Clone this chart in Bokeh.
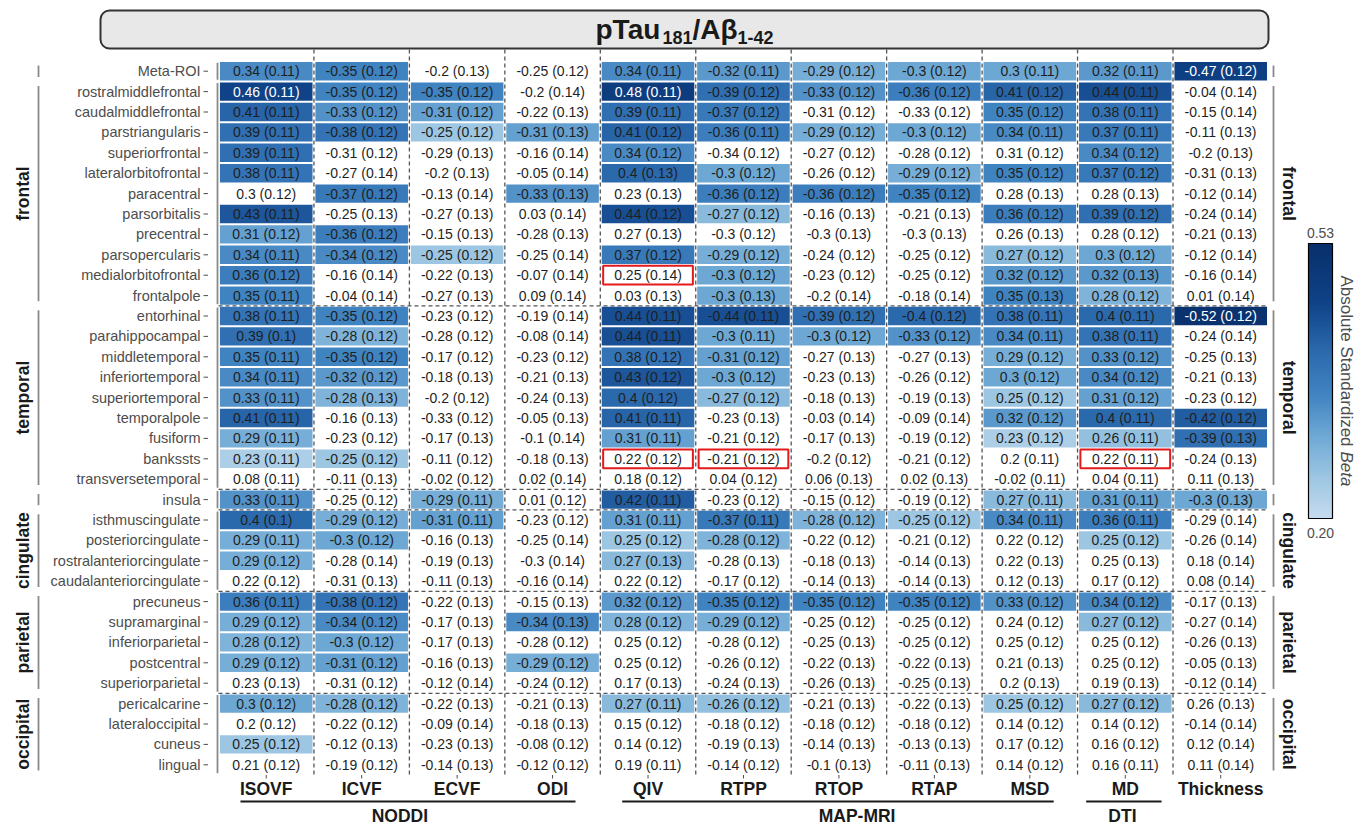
import math
from bokeh.plotting import figure
from bokeh.models import ColumnDataSource, Range1d, LinearColorMapper, ColorBar, FixedTicker
from bokeh.transform import transform
from bokeh.core.properties import value
from bokeh.embed import file_html
from bokeh.resources import INLINE

# ---------------- data ----------------
regions = ["Meta-ROI",
           "rostralmiddlefrontal", "caudalmiddlefrontal", "parstriangularis", "superiorfrontal",
           "lateralorbitofrontal", "paracentral", "parsorbitalis", "precentral", "parsopercularis",
           "medialorbitofrontal", "frontalpole",
           "entorhinal", "parahippocampal", "middletemporal", "inferiortemporal", "superiortemporal",
           "temporalpole", "fusiform", "bankssts", "transversetemporal",
           "insula",
           "isthmuscingulate", "posteriorcingulate", "rostralanteriorcingulate", "caudalanteriorcingulate",
           "precuneus", "supramarginal", "inferiorparietal", "postcentral", "superiorparietal",
           "pericalcarine", "lateraloccipital", "cuneus", "lingual"]

groups = ["Meta-ROI", "frontal", "temporal", "insula", "cingulate", "parietal", "occipital"]
group_sizes = [1, 11, 9, 1, 4, 5, 4]
group_named = [False, True, True, False, True, True, True]

measures = ["ISOVF", "ICVF", "ECVF", "ODI", "QIV", "RTPP", "RTOP", "RTAP", "MSD", "MD", "Thickness"]
families = ["NODDI", "MAP-MRI", "DTI"]
family_first = [0, 4, 9]
family_last = [3, 8, 9]

ISOVF_beta = [0.34, 0.46, 0.41, 0.39, 0.39, 0.38, 0.3, 0.43, 0.31, 0.34, 0.36, 0.35,
              0.38, 0.39, 0.35, 0.34, 0.33, 0.41, 0.29, 0.23, 0.08, 0.33,
              0.4, 0.29, 0.29, 0.22, 0.36, 0.29, 0.28, 0.29, 0.23, 0.3, 0.2, 0.25, 0.21]
ISOVF_se = [0.11, 0.11, 0.11, 0.11, 0.11, 0.11, 0.12, 0.11, 0.12, 0.11, 0.12, 0.11,
            0.11, 0.1, 0.11, 0.11, 0.11, 0.11, 0.11, 0.11, 0.11, 0.11,
            0.1, 0.11, 0.12, 0.12, 0.11, 0.12, 0.12, 0.12, 0.13, 0.12, 0.12, 0.12, 0.12]
ISOVF_sig = [1, 1, 1, 1, 1, 1, 0, 1, 1, 1, 1, 1,
             1, 1, 1, 1, 1, 1, 1, 1, 0, 1,
             1, 1, 1, 0, 1, 1, 1, 1, 0, 1, 0, 1, 0]

ICVF_beta = [-0.35, -0.35, -0.33, -0.38, -0.31, -0.27, -0.37, -0.25, -0.36, -0.34, -0.16, -0.04,
             -0.35, -0.28, -0.35, -0.32, -0.28, -0.16, -0.23, -0.25, -0.11, -0.25,
             -0.29, -0.3, -0.28, -0.31, -0.38, -0.34, -0.3, -0.31, -0.31, -0.28, -0.22, -0.12, -0.19]
ICVF_se = [0.12, 0.12, 0.12, 0.12, 0.12, 0.14, 0.12, 0.13, 0.12, 0.12, 0.14, 0.14,
           0.12, 0.12, 0.12, 0.12, 0.13, 0.13, 0.12, 0.12, 0.13, 0.12,
           0.12, 0.12, 0.14, 0.13, 0.12, 0.12, 0.12, 0.12, 0.12, 0.12, 0.12, 0.13, 0.12]
ICVF_sig = [1, 1, 1, 1, 0, 0, 1, 0, 1, 1, 0, 0,
            1, 1, 1, 1, 1, 0, 0, 1, 0, 0,
            1, 1, 0, 0, 1, 1, 1, 1, 0, 1, 0, 0, 0]

ECVF_beta = [-0.2, -0.35, -0.31, -0.25, -0.29, -0.2, -0.13, -0.27, -0.15, -0.25, -0.22, -0.27,
             -0.23, -0.28, -0.17, -0.18, -0.2, -0.33, -0.17, -0.11, -0.02, -0.29,
             -0.31, -0.16, -0.19, -0.11, -0.22, -0.17, -0.17, -0.16, -0.12, -0.22, -0.09, -0.23, -0.14]
ECVF_se = [0.13, 0.12, 0.12, 0.12, 0.13, 0.13, 0.14, 0.13, 0.13, 0.12, 0.13, 0.13,
           0.12, 0.12, 0.12, 0.13, 0.12, 0.12, 0.13, 0.12, 0.12, 0.11,
           0.11, 0.13, 0.13, 0.13, 0.13, 0.13, 0.13, 0.13, 0.14, 0.13, 0.14, 0.13, 0.13]
ECVF_sig = [0, 1, 1, 1, 0, 0, 0, 0, 0, 1, 0, 0,
            0, 0, 0, 0, 0, 0, 0, 0, 0, 1,
            1, 0, 0, 0, 0, 0, 0, 0, 0, 0, 0, 0, 0]

ODI_beta = [-0.25, -0.2, -0.22, -0.31, -0.16, -0.05, -0.33, 0.03, -0.28, -0.25, -0.07, 0.09,
            -0.19, -0.08, -0.23, -0.21, -0.24, -0.05, -0.1, -0.18, 0.02, 0.01,
            -0.23, -0.25, -0.3, -0.16, -0.15, -0.34, -0.28, -0.29, -0.24, -0.21, -0.18, -0.08, -0.12]
ODI_se = [0.12, 0.14, 0.13, 0.13, 0.14, 0.14, 0.13, 0.14, 0.13, 0.14, 0.14, 0.14,
          0.14, 0.14, 0.12, 0.13, 0.13, 0.13, 0.14, 0.13, 0.14, 0.12,
          0.12, 0.14, 0.14, 0.14, 0.13, 0.13, 0.12, 0.12, 0.12, 0.13, 0.13, 0.12, 0.12]
ODI_sig = [0, 0, 0, 1, 0, 0, 1, 0, 0, 0, 0, 0,
           0, 0, 0, 0, 0, 0, 0, 0, 0, 0,
           0, 0, 0, 0, 0, 1, 0, 1, 0, 0, 0, 0, 0]

QIV_beta = [0.34, 0.48, 0.39, 0.41, 0.34, 0.4, 0.23, 0.44, 0.27, 0.37, 0.25, 0.03,
            0.44, 0.44, 0.38, 0.43, 0.4, 0.41, 0.31, 0.22, 0.18, 0.42,
            0.31, 0.25, 0.27, 0.22, 0.32, 0.28, 0.25, 0.25, 0.17, 0.27, 0.15, 0.14, 0.19]
QIV_se = [0.11, 0.11, 0.11, 0.12, 0.12, 0.13, 0.13, 0.12, 0.13, 0.12, 0.14, 0.13,
          0.11, 0.11, 0.12, 0.12, 0.12, 0.11, 0.11, 0.12, 0.12, 0.11,
          0.11, 0.12, 0.13, 0.12, 0.12, 0.12, 0.12, 0.12, 0.13, 0.11, 0.12, 0.12, 0.11]
QIV_sig = [1, 1, 1, 1, 1, 1, 0, 1, 0, 1, 0, 0,
           1, 1, 1, 1, 1, 1, 1, 0, 0, 1,
           1, 1, 1, 0, 1, 1, 0, 0, 0, 1, 0, 0, 0]

RTPP_beta = [-0.32, -0.39, -0.37, -0.36, -0.34, -0.3, -0.36, -0.27, -0.3, -0.29, -0.3, -0.3,
             -0.44, -0.3, -0.31, -0.3, -0.27, -0.23, -0.21, -0.21, 0.04, -0.23,
             -0.37, -0.28, -0.28, -0.17, -0.35, -0.29, -0.28, -0.26, -0.24, -0.26, -0.18, -0.19, -0.14]
RTPP_se = [0.11, 0.12, 0.12, 0.11, 0.12, 0.12, 0.12, 0.12, 0.12, 0.12, 0.12, 0.13,
           0.11, 0.11, 0.12, 0.12, 0.12, 0.13, 0.12, 0.12, 0.12, 0.12,
           0.11, 0.12, 0.13, 0.12, 0.12, 0.12, 0.12, 0.12, 0.13, 0.12, 0.12, 0.13, 0.12]
RTPP_sig = [1, 1, 1, 1, 0, 1, 1, 1, 0, 1, 1, 1,
            1, 1, 1, 1, 1, 0, 0, 0, 0, 0,
            1, 1, 0, 0, 1, 1, 0, 0, 0, 1, 0, 0, 0]

RTOP_beta = [-0.29, -0.33, -0.31, -0.29, -0.27, -0.26, -0.36, -0.16, -0.3, -0.24, -0.23, -0.2,
             -0.39, -0.3, -0.27, -0.23, -0.18, -0.03, -0.17, -0.2, 0.06, -0.15,
             -0.28, -0.22, -0.18, -0.14, -0.35, -0.25, -0.25, -0.22, -0.26, -0.21, -0.18, -0.14, -0.1]
RTOP_se = [0.12, 0.12, 0.12, 0.12, 0.12, 0.12, 0.12, 0.13, 0.13, 0.12, 0.12, 0.14,
           0.12, 0.12, 0.13, 0.13, 0.13, 0.14, 0.13, 0.12, 0.13, 0.12,
           0.12, 0.12, 0.13, 0.13, 0.12, 0.12, 0.13, 0.13, 0.13, 0.13, 0.12, 0.13, 0.13]
RTOP_sig = [1, 1, 0, 1, 0, 0, 1, 0, 0, 0, 0, 0,
            1, 1, 0, 0, 0, 0, 0, 0, 0, 0,
            1, 0, 0, 0, 1, 0, 0, 0, 0, 0, 0, 0, 0]

RTAP_beta = [-0.3, -0.36, -0.33, -0.3, -0.28, -0.29, -0.35, -0.21, -0.3, -0.25, -0.25, -0.18,
             -0.4, -0.33, -0.27, -0.26, -0.19, -0.09, -0.19, -0.21, 0.02, -0.19,
             -0.25, -0.21, -0.14, -0.14, -0.35, -0.25, -0.25, -0.22, -0.25, -0.22, -0.18, -0.13, -0.11]
RTAP_se = [0.12, 0.12, 0.12, 0.12, 0.12, 0.12, 0.12, 0.13, 0.13, 0.12, 0.12, 0.14,
           0.12, 0.12, 0.13, 0.12, 0.13, 0.14, 0.12, 0.12, 0.13, 0.12,
           0.12, 0.12, 0.13, 0.13, 0.12, 0.12, 0.12, 0.13, 0.13, 0.13, 0.12, 0.13, 0.13]
RTAP_sig = [1, 1, 0, 1, 0, 1, 1, 0, 0, 0, 0, 0,
            1, 1, 0, 0, 0, 0, 0, 0, 0, 0,
            1, 0, 0, 0, 1, 0, 0, 0, 0, 0, 0, 0, 0]

MSD_beta = [0.3, 0.41, 0.35, 0.34, 0.31, 0.35, 0.28, 0.36, 0.26, 0.27, 0.32, 0.35,
            0.38, 0.34, 0.29, 0.3, 0.25, 0.32, 0.23, 0.2, -0.02, 0.27,
            0.34, 0.22, 0.22, 0.12, 0.33, 0.24, 0.25, 0.21, 0.2, 0.25, 0.14, 0.17, 0.14]
MSD_se = [0.11, 0.12, 0.12, 0.11, 0.12, 0.12, 0.13, 0.12, 0.13, 0.12, 0.12, 0.13,
          0.11, 0.11, 0.12, 0.12, 0.12, 0.12, 0.12, 0.11, 0.11, 0.11,
          0.11, 0.12, 0.13, 0.13, 0.12, 0.12, 0.12, 0.13, 0.13, 0.12, 0.12, 0.12, 0.12]
MSD_sig = [1, 1, 1, 1, 0, 1, 0, 1, 0, 1, 1, 1,
           1, 1, 1, 1, 1, 1, 1, 0, 0, 1,
           1, 0, 0, 0, 1, 0, 0, 0, 0, 1, 0, 0, 0]

MD_beta = [0.32, 0.44, 0.38, 0.37, 0.34, 0.37, 0.28, 0.39, 0.28, 0.3, 0.32, 0.28,
           0.4, 0.38, 0.33, 0.34, 0.31, 0.4, 0.26, 0.22, 0.04, 0.31,
           0.36, 0.25, 0.25, 0.17, 0.34, 0.27, 0.25, 0.25, 0.19, 0.27, 0.14, 0.16, 0.16]
MD_se = [0.11, 0.11, 0.11, 0.11, 0.12, 0.12, 0.13, 0.12, 0.12, 0.12, 0.13, 0.12,
         0.11, 0.11, 0.12, 0.12, 0.12, 0.11, 0.11, 0.11, 0.11, 0.11,
         0.11, 0.12, 0.13, 0.12, 0.12, 0.12, 0.12, 0.12, 0.13, 0.12, 0.12, 0.12, 0.11]
MD_sig = [1, 1, 1, 1, 1, 1, 0, 1, 0, 1, 1, 1,
          1, 1, 1, 1, 1, 1, 1, 0, 0, 1,
          1, 1, 0, 0, 1, 1, 0, 0, 0, 1, 0, 0, 0]

Thickness_beta = [-0.47, -0.04, -0.15, -0.11, -0.2, -0.31, -0.12, -0.24, -0.21, -0.12, -0.16, 0.01,
                  -0.52, -0.24, -0.25, -0.21, -0.23, -0.42, -0.39, -0.24, 0.11, -0.3,
                  -0.29, -0.26, 0.18, 0.08, -0.17, -0.27, -0.26, -0.05, -0.12, 0.26, -0.14, 0.12, 0.11]
Thickness_se = [0.12, 0.14, 0.14, 0.13, 0.13, 0.13, 0.14, 0.14, 0.13, 0.14, 0.14, 0.14,
                0.12, 0.14, 0.13, 0.13, 0.12, 0.12, 0.13, 0.13, 0.13, 0.13,
                0.14, 0.14, 0.14, 0.14, 0.13, 0.14, 0.13, 0.13, 0.14, 0.13, 0.14, 0.14, 0.14]
Thickness_sig = [1, 0, 0, 0, 0, 0, 0, 0, 0, 0, 0, 0,
                 1, 0, 0, 0, 0, 1, 1, 0, 0, 1,
                 0, 0, 0, 0, 0, 0, 0, 0, 0, 0, 0, 0, 0]

highlight_region = ["medialorbitofrontal", "bankssts", "bankssts", "bankssts"]
highlight_measure = ["QIV", "QIV", "RTPP", "MD"]

color_low, color_high = 0.20, 0.53

# ---------------- assemble ----------------
beta_cols = [ISOVF_beta, ICVF_beta, ECVF_beta, ODI_beta, QIV_beta, RTPP_beta,
             RTOP_beta, RTAP_beta, MSD_beta, MD_beta, Thickness_beta]
se_cols = [ISOVF_se, ICVF_se, ECVF_se, ODI_se, QIV_se, RTPP_se,
           RTOP_se, RTAP_se, MSD_se, MD_se, Thickness_se]
sig_cols = [ISOVF_sig, ICVF_sig, ECVF_sig, ODI_sig, QIV_sig, RTPP_sig,
            RTOP_sig, RTAP_sig, MSD_sig, MD_sig, Thickness_sig]

FONT = value("Liberation Sans")

# pixel geometry helpers (picture pixel -> data units)
X0, CW = 218.0, 95.45
Y0, RH = 60.5, 20.4
def dx(sx): return (sx - X0) / CW
def dy(sy): return (sy - Y0) / RH

W, H = 1364, 828

def fmt(v):
    return f"{v:g}"

# gradient anchors (fraction of colour range, colour)
grad_stops = [(0.0, "#c6dbef"), (0.15, "#9cc6e2"), (0.30, "#6ea8d4"), (0.45, "#4184c2"),
              (0.61, "#2b69ad"), (0.79, "#0f4287"), (1.0, "#08306b")]

def build_palette(stops, n):
    out = []
    for k in range(n):
        t = k / (n - 1)
        for (t0, c0), (t1, c1) in zip(stops[:-1], stops[1:]):
            if t <= t1:
                f = (t - t0) / (t1 - t0)
                a = [int(c0[i:i + 2], 16) for i in (1, 3, 5)]
                b = [int(c1[i:i + 2], 16) for i in (1, 3, 5)]
                out.append("#%02x%02x%02x" % tuple(round(a[j] + (b[j] - a[j]) * f) for j in range(3)))
                break
    return out

palette = build_palette(grad_stops, 256)
mapper = LinearColorMapper(palette=palette, low=color_low, high=color_high)

cell = dict(xc=[], yc=[], left=[], right=[], top=[], bottom=[], absb=[], label=[], tcolor=[], sig=[])
for c, m in enumerate(measures):
    for r, reg in enumerate(regions):
        b = beta_cols[c][r]
        s = se_cols[c][r]
        cell["xc"].append(c + 0.5)
        cell["yc"].append(r + 0.5)
        cell["left"].append(c + 0.015)
        cell["right"].append(c + 0.985)
        cell["top"].append(r + 0.05)
        cell["bottom"].append(r + 0.95)
        cell["absb"].append(abs(b))
        cell["label"].append(f"{fmt(b)} ({fmt(s)})")
        cell["sig"].append(sig_cols[c][r])
        cell["tcolor"].append("white" if (sig_cols[c][r] and abs(b) >= 0.45) else "#1f1f1f")

all_src = ColumnDataSource(cell)
sig_src = ColumnDataSource({k: [v for v, s in zip(vals, cell["sig"]) if s] for k, vals in cell.items()})

n_rows = len(regions)
n_cols = len(measures)

p = figure(width=W, height=H,
           x_range=Range1d(dx(0), dx(W)), y_range=Range1d(dy(H), dy(0)),
           output_backend="svg", toolbar_location=None, min_border=0,
           x_axis_location=None, y_axis_location=None, outline_line_color=None)
p.grid.visible = False
p.background_fill_color = "white"

# title strip
p.quad(left=[dx(100)], right=[dx(1268)], top=[dy(10)], bottom=[dy(48)],
       fill_color="#e8e8e8", line_color="#333333", line_width=2, border_radius=9)
tx, ty = dx(684), dy(29)
title_parts = [("pTau", "28px", 0, -89), ("181", "18px", 8, -22), ("/A\u03b2", "28px", 0, 8), ("1-42", "18px", 8, 53)]
for txt, size, yoff, xoff in title_parts:
    p.text(x=[tx], y=[ty], text=[txt], x_offset=xoff, y_offset=yoff, text_font=FONT,
           text_font_size=size, text_font_style="bold", text_color="#1a1a1a",
           text_align="left", text_baseline="middle")

# dashed grid between columns
bx = list(range(1, n_cols))
p.segment(x0=bx, y0=[dy(49)] * len(bx), x1=bx, y1=[n_rows] * len(bx),
          line_color="#555555", line_width=1.3, line_dash="4 3")

# dashed lines between groups
starts = []
acc = 0
for g in group_sizes:
    starts.append(acc)
    acc += g
hb = starts[2:]
p.segment(x0=[0] * len(hb), y0=hb, x1=[n_cols] * len(hb), y1=hb,
          line_color="#555555", line_width=1.3, line_dash="4 3")

# cells
p.quad(left="left", right="right", top="top", bottom="bottom", source=sig_src,
       fill_color=transform("absb", mapper), line_color=None)

# highlight boxes
hl_left, hl_right, hl_top, hl_bottom = [], [], [], []
for reg, m in zip(highlight_region, highlight_measure):
    c = measures.index(m)
    r = regions.index(reg)
    hl_left.append(c + 0.03); hl_right.append(c + 0.97)
    hl_top.append(r + 0.04); hl_bottom.append(r + 0.96)
p.quad(left=hl_left, right=hl_right, top=hl_top, bottom=hl_bottom,
       fill_color=None, line_color="#e3191c", line_width=2)

# cell labels
p.text(x="xc", y="yc", text="label", source=all_src, text_color="tcolor",
       text_font=FONT, text_font_size="14px", text_align="center", text_baseline="middle")

# row labels & ticks
ry = [r + 0.5 for r in range(n_rows)]
p.text(x=[dx(200)] * n_rows, y=ry, text=regions, text_font=FONT, text_font_size="14.5px",
       text_color="#4d4d4d", text_align="right", text_baseline="middle")
p.segment(x0=[dx(203)] * n_rows, y0=ry, x1=[dx(207.5)] * n_rows, y1=ry,
          line_color="#4d4d4d", line_width=1)

# column labels & ticks
cx = [c + 0.5 for c in range(n_cols)]
p.segment(x0=cx, y0=[n_rows] * n_cols, x1=cx, y1=[dy(778)] * n_cols,
          line_color="#4d4d4d", line_width=1)
p.text(x=cx, y=[dy(788)] * n_cols, text=measures, text_font=FONT, text_font_size="17.5px",
       text_font_style="bold", text_color="#1a1a1a", text_align="center", text_baseline="middle")

# family underlines & labels
fam_line_l = [0.23, 4.23, 9.09]
fam_line_r = [3.74, 8.75, 9.88]
fam_lab_x = [1.9, 6.69, 9.47]
p.segment(x0=fam_line_l, y0=[dy(801)] * 3, x1=fam_line_r, y1=[dy(801)] * 3,
          line_color="#1a1a1a", line_width=2)
p.text(x=fam_lab_x, y=[dy(815)] * 3, text=families, text_font=FONT, text_font_size="17.5px",
       text_font_style="bold", text_color="#1a1a1a", text_align="center", text_baseline="middle")

# group brackets and labels
gl_y0, gl_y1, ge_y0, ge_y1, lab_y, lab_t = [], [], [], [], [], []
for g, s, n, named in zip(groups, starts, group_sizes, group_named):
    gl_y0.append(s + 0.22); gl_y1.append(s + n - 0.22)
    ge_y0.append(s + 0.08); ge_y1.append(s + n - 0.08)
    if named:
        lab_y.append(s + n / 2); lab_t.append(g)
ng = len(groups)
p.segment(x0=[dx(38)] * ng, y0=gl_y0, x1=[dx(38)] * ng, y1=gl_y1, line_color="#8a8a8a", line_width=1.8)
p.segment(x0=[dx(217)] * ng, y0=ge_y0, x1=[dx(217)] * ng, y1=ge_y1, line_color="#8a8a8a", line_width=1.8)
p.segment(x0=[dx(1273)] * ng, y0=gl_y0, x1=[dx(1273)] * ng, y1=gl_y1, line_color="#8a8a8a", line_width=1.8)
p.text(x=[dx(22)] * len(lab_y), y=lab_y, text=lab_t, angle=math.pi / 2, text_font=FONT,
       text_font_size="17.5px", text_font_style="bold", text_color="#1a1a1a",
       text_align="center", text_baseline="middle")
p.text(x=[dx(1288)] * len(lab_y), y=lab_y, text=lab_t, angle=-math.pi / 2, text_font=FONT,
       text_font_size="17.5px", text_font_style="bold", text_color="#1a1a1a",
       text_align="center", text_baseline="middle")

# colour bar
cb = ColorBar(color_mapper=mapper, location=(1308, H - 518), width=24, height=275,
              padding=0, margin=0, ticker=FixedTicker(ticks=[]), major_label_text_font_size="0px",
              major_tick_line_color=None, minor_tick_line_color=None,
              bar_line_color="black", bar_line_width=1.2,
              background_fill_alpha=0, border_line_color=None, title=None)
p.add_layout(cb, "center")
p.text(x=[dx(1320), dx(1320)], y=[dy(232), dy(532)], text=[f"{color_high:.2f}", f"{color_low:.2f}"],
       text_font=FONT, text_font_size="14px", text_color="#4d4d4d",
       text_align="center", text_baseline="middle")
p.text(x=[dx(1346)], y=[dy(275)], text=["Absolute Standardized "], angle=-math.pi / 2,
       text_font=FONT, text_font_size="17px", text_color="#4d4d4d",
       text_align="left", text_baseline="middle")
p.text(x=[dx(1346)], y=[dy(451)], text=["Beta"], angle=-math.pi / 2,
       text_font=FONT, text_font_size="17px", text_font_style="italic", text_color="#4d4d4d",
       text_align="left", text_baseline="middle")

open("out.html", "w").write(file_html(p, INLINE))
